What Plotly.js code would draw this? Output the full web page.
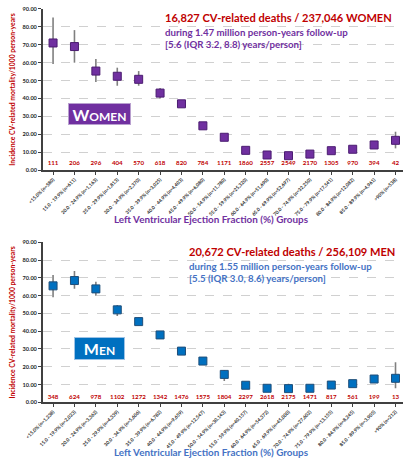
<!DOCTYPE html>
<html><head><meta charset="utf-8">
<script src="https://cdn.plot.ly/plotly-3.0.1.min.js"></script>
<style>html,body{margin:0;padding:0;background:#fff}#chart{width:403px;height:461px}</style>
</head><body><div id="chart"></div>
<script>
const categoriesWomen = ["<15.0% (n=580)","15.0 - 19.9% (n=611)","20.0 - 24.9% (n=1,163)","25.0 - 29.9% (n=1,813)","30.0 - 34.9% (n=2,370)","35.0 - 39.9% (n=3,025)","40.0 - 44.9% (n=4,403)","45.0 - 49.9% (n=6,080)","50.0 - 54.9% (n=11,780)","55.0 - 59.9% (n=25,320)","60.0 - 64.9% (n=51,690)","65.0 - 69.9% (n=52,697)","70.0 - 74.9% (n=32,250)","75.0 - 79.9% (n=17,541)","80.0 - 84.9% (n=12,082)","85.0 - 89.9% (n=4,961)",">90% (n=538)"];
const categoriesMen = ["<15.0% (n=1,238)","15.0 - 19.9% (n=2,023)","20.0 - 24.9% (n=3,362)","25.0 - 29.9% (n=4,339)","30.0 - 34.9% (n=5,606)","35.0 - 39.9% (n=6,782)","40.0 - 44.9% (n=9,659)","45.0 - 49.9% (n=12,547)","50.0 - 54.9% (n=30,143)","55.0 - 59.9% (n=40,157)","60.0 - 64.9% (n=54,372)","65.0 - 69.9% (n=45,000)","70.0 - 74.9% (n=27,602)","75.0 - 79.9% (n=13,155)","80.0 - 84.9% (n=8,245)","85.0 - 89.9% (n=3,905)",">90% (n=212)"];

const womenRate = [71.0, 69.0, 55.3, 52.4, 50.7, 43.0, 37.0, 24.7, 18.3, 11.0, 8.4, 8.0, 8.9, 10.8, 11.6, 14.0, 16.6];
const womenLow  = [59.2, 60.0, 49.2, 47.1, 47.1, 40.0, 35.5, 23.5, 17.0, 10.3, 7.9, 7.5, 8.2, 9.9, 10.5, 12.4, 12.1];
const womenHigh = [85.3, 78.2, 62.0, 57.2, 55.3, 45.8, 38.6, 26.0, 19.6, 11.7, 8.9, 8.5, 9.6, 11.7, 12.7, 15.6, 21.4];
const womenDeaths = [111, 206, 296, 404, 570, 618, 820, 784, 1171, 1860, 2557, 2549, 2170, 1305, 970, 394, 42];

const menRate = [65.5, 68.5, 63.8, 52.0, 45.4, 37.9, 28.8, 23.2, 15.7, 9.6, 7.9, 7.7, 7.9, 9.7, 10.5, 13.1, 13.5];
const menLow  = [59.1, 63.9, 60.0, 48.5, 43.3, 36.2, 27.6, 22.2, 12.0, 9.1, 7.5, 7.3, 7.5, 9.1, 9.8, 11.3, 7.9];
const menHigh = [71.6, 73.8, 67.8, 54.7, 47.8, 39.6, 30.1, 24.3, 18.0, 10.2, 8.4, 10.5, 8.4, 10.4, 11.3, 14.9, 22.5];
const menDeaths = [348, 624, 978, 1102, 1272, 1342, 1476, 1575, 1804, 2297, 2618, 2175, 1471, 817, 561, 199, 13];

const idx = categoriesWomen.map((_, i) => i);
const RED = '#C00000', PURPLE = '#7030A0', BLUE = '#0070C0', LBLUE = '#4472C4';
const FONT = 'Lato, "Open Sans", sans-serif';

function pointTrace(rate, low, high, color, edge, xa, ya) {
  return {
    type: 'scatter', mode: 'markers', x: idx, y: rate, xaxis: xa, yaxis: ya,
    marker: {symbol: 'square', size: 8, color: color, line: {color: edge, width: 1}},
    error_y: {type: 'data', symmetric: false,
      array: high.map((h, i) => h - rate[i]),
      arrayminus: low.map((l, i) => rate[i] - l),
      color: '#7F7F7F', thickness: 1.6, width: 0},
    hoverinfo: 'skip', showlegend: false
  };
}
function countTrace(counts, ylev, xa, ya) {
  return {
    type: 'scatter', mode: 'text', x: idx, y: counts.map(() => ylev), xaxis: xa, yaxis: ya,
    text: counts.map(String), textposition: 'middle center',
    textfont: {family: FONT, size: 6.2, color: RED, weight: 'bold'},
    hoverinfo: 'skip', showlegend: false
  };
}

const data = [
  pointTrace(womenRate, womenLow, womenHigh, PURPLE, '#4B1C70', 'x', 'y'),
  countTrace(womenDeaths, 3.5, 'x', 'y'),
  pointTrace(menRate, menLow, menHigh, BLUE, '#1F4E79', 'x2', 'y2'),
  countTrace(menDeaths, 2.8, 'x2', 'y2')
];

function xAxis(labels, anchor) {
  return {
    anchor: anchor, domain: [0, 1], range: [-0.47, 16.35],
    tickmode: 'array', tickvals: idx, ticktext: labels, tickangle: -45,
    tickfont: {family: FONT, size: 4.8, color: '#262626', weight: 'bold'},
    ticks: 'outside', ticklen: 3, tickcolor: '#404040',
    showline: true, linecolor: '#404040', linewidth: 2,
    showgrid: false, zeroline: false, automargin: false, fixedrange: true
  };
}
function yAxis(anchor, domain) {
  return {
    anchor: anchor, domain: domain, range: [0, 90], dtick: 10, tickformat: '.2f',
    tickfont: {family: FONT, size: 5.6, color: '#262626', weight: 'bold'},
    ticks: 'outside', ticklen: 3, tickcolor: '#404040',
    showline: true, linecolor: '#404040', linewidth: 2,
    showgrid: true, gridcolor: '#D0D0D0', griddash: 'dash', gridwidth: 1,
    zeroline: false, automargin: false, fixedrange: true,
    title: {text: 'Incidence CV-related mortality/1000 person-years', standoff: 6,
      font: {family: FONT, size: 6.8, color: RED, weight: 'bold'}}
  };
}

const ann = (text, x, y, size, color, extra) => Object.assign({
  text: text, xref: 'paper', yref: 'paper', x: x, y: y, xanchor: 'left', yanchor: 'middle',
  showarrow: false, font: {family: FONT, size: size, color: color, weight: 'bold'}
}, extra || {});

const layout = {
  width: 403, height: 461,
  margin: {l: 43, r: 0, t: 0, b: 0},
  paper_bgcolor: '#fff', plot_bgcolor: '#fff',
  xaxis: xAxis(categoriesWomen, 'y'),
  yaxis: yAxis('x', [0.6312, 0.9805]),
  xaxis2: xAxis(categoriesMen, 'y2'),
  yaxis2: yAxis('x2', [0.1273, 0.4744]),
  annotations: [
    ann('16,827 CV-related deaths / 237,046 WOMEN', 0.333, 0.963, 11.1, RED),
    ann('during 1.47 million person-years follow-up', 0.333, 0.931, 9.7, PURPLE),
    ann('[5.6 (IQR 3.2, 8.8) years/person]', 0.333, 0.9046, 9.7, PURPLE),
    ann('<span style="font-size:16px">W</span>OMEN', 0.157, 0.753, 12, '#FFFFFF',
      {xanchor: 'center', bgcolor: PURPLE, width: 61, height: 20, bordercolor: '#B9A0CF', borderwidth: 1, borderpad: 0}),
    ann('Left Ventricular Ejection Fraction (%) Groups', 0.467, 0.526, 9.9, PURPLE, {xanchor: 'center'}),
    ann('20,672 CV-related deaths / 256,109 MEN', 0.400, 0.454, 11.1, RED),
    ann('during 1.55 million person-years follow-up', 0.400, 0.423, 9.7, LBLUE),
    ann('[5.5 (IQR 3.0, 8.6) years/person]', 0.400, 0.398, 9.7, LBLUE),
    ann('<span style="font-size:16px">M</span>EN', 0.157, 0.244, 12, '#FFFFFF',
      {xanchor: 'center', bgcolor: BLUE, width: 49, height: 21, bordercolor: '#9DC3E6', borderwidth: 1, borderpad: 0}),
    ann('Left Ventricular Ejection Fraction (%) Groups', 0.469, 0.0195, 9.9, LBLUE, {xanchor: 'center'})
  ]
};

Plotly.newPlot('chart', data, layout, {staticPlot: true, displayModeBar: false});
</script>
</body></html>
